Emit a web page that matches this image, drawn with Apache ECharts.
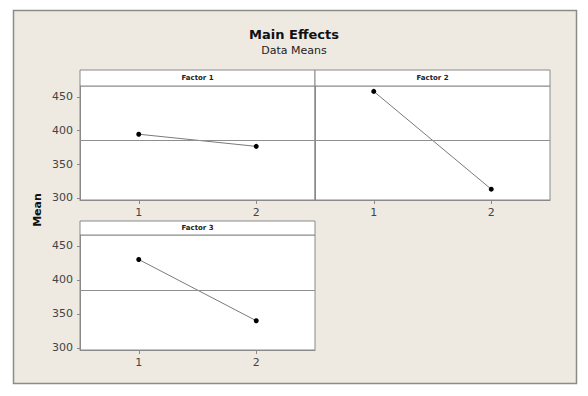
<!DOCTYPE html>
<html>
<head>
<meta charset="utf-8">
<script src="https://cdn.jsdelivr.net/npm/echarts@6/dist/echarts.min.js"></script>
<style>
html,body{margin:0;padding:0;background:#ffffff;}
#chart{width:588px;height:396px;}
</style>
</head>
<body>
<div id="chart"></div>
<script>
// ---- data ----
const levels = ['1', '2'];
const factorNames = ['Factor 1', 'Factor 2', 'Factor 3'];
const factor1 = [394.5, 376.5];
const factor2 = [458, 313];
const factor3 = [430, 340];
const grandMean = 385.5;
const yTicks = [300, 350, 400, 450];
const yMin = 297;
const yMax = 466;
const titleText = 'Main Effects';
const subtitleText = 'Data Means';
const yName = 'Mean';

// ---- layout / style ----
const FONT = 'DejaVu Sans';
const frameCol = '#8a8a8a';
const panels = [
  { left: 80, top: 86, width: 235, height: 114, stripTop: 70, showY: true, data: factor1 },
  { left: 315, top: 86, width: 235, height: 114, stripTop: 70, showY: false, data: factor2 },
  { left: 80, top: 235, width: 235, height: 115, stripTop: 221, showY: true, data: factor3 }
];

const chart = echarts.init(document.getElementById('chart'), null, { renderer: 'svg' });

const grids = [], xAxes = [], yAxes = [], series = [], graphics = [];

graphics.push({
  type: 'rect', z: -100,
  shape: { x: 13.5, y: 10.5, width: 563, height: 373 },
  style: { fill: '#EEEAE2', stroke: '#8c8c86', lineWidth: 1.5 }
});

panels.forEach((p, i) => {
  grids.push({
    left: p.left, top: p.top, width: p.width, height: p.height,
    show: true, backgroundColor: '#ffffff', borderColor: frameCol, borderWidth: 1
  });
  xAxes.push({
    type: 'category', gridIndex: i, data: levels, boundaryGap: true,
    axisLine: { show: true, lineStyle: { color: frameCol } },
    axisTick: { show: true, alignWithLabel: true, length: 4, lineStyle: { color: frameCol } },
    axisLabel: { color: '#444', fontFamily: FONT, fontSize: 11, margin: 7 },
    splitLine: { show: false }
  });
  yAxes.push({
    type: 'value', gridIndex: i, min: yMin, max: yMax,
    axisLine: { show: true, lineStyle: { color: frameCol } },
    axisTick: { show: p.showY, length: 3, customValues: yTicks, lineStyle: { color: frameCol } },
    axisLabel: { show: p.showY, customValues: yTicks, color: '#444', fontFamily: FONT, fontSize: 11, margin: 7 },
    splitLine: { show: false }
  });
  series.push({
    type: 'line', xAxisIndex: i, yAxisIndex: i, data: p.data,
    symbol: 'circle', symbolSize: 5, showSymbol: true,
    itemStyle: { color: '#000' },
    lineStyle: { color: '#7a7a7a', width: 1 },
    animation: false, silent: true,
    markLine: {
      silent: true, symbol: ['none', 'none'], animation: false,
      label: { show: false },
      lineStyle: { color: '#8f8f8f', width: 1, type: 'solid' },
      data: [{ yAxis: grandMean }]
    }
  });
  graphics.push({
    type: 'group', z: 10,
    children: [
      { type: 'rect', shape: { x: p.left, y: p.stripTop, width: p.width, height: p.top - p.stripTop },
        style: { fill: '#ffffff', stroke: frameCol, lineWidth: 1 } },
      { type: 'text', x: p.left + p.width / 2, y: p.stripTop + (p.top - p.stripTop) / 2,
        style: { text: factorNames[i], fill: '#222', font: 'bold 7px "' + FONT + '"', align: 'center', verticalAlign: 'middle' } }
    ]
  });
});

graphics.push({
  type: 'text', x: 37, y: 210, rotation: Math.PI / 2,
  style: { text: yName, fill: '#111', font: 'bold 11px "' + FONT + '"', align: 'center', verticalAlign: 'middle' }
});

chart.setOption({
  animation: false,
  title: {
    text: titleText, subtext: subtitleText, left: 'center', top: 28, padding: 0, itemGap: 4,
    textStyle: { fontFamily: FONT, fontSize: 13, fontWeight: 'bold', color: '#111' },
    subtextStyle: { fontFamily: FONT, fontSize: 11, color: '#222' }
  },
  grid: grids,
  xAxis: xAxes,
  yAxis: yAxes,
  series: series,
  graphic: graphics
});
</script>
</body>
</html>
